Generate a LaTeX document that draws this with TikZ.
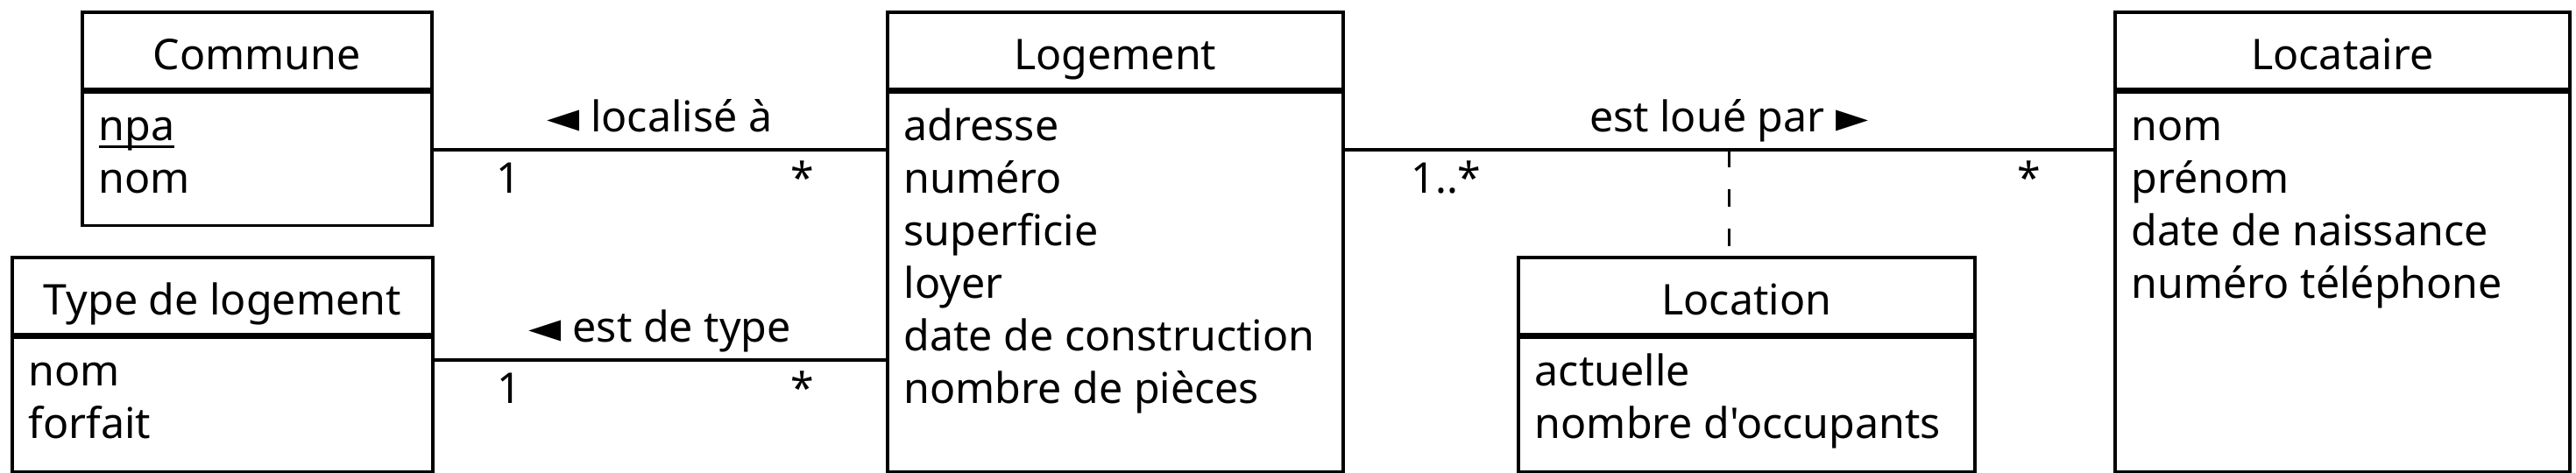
\documentclass[tikz,border=0pt]{standalone}
\usepackage{fontspec}
\setmainfont{Noto Sans}[Ligatures=TeXOff]
\newfontfamily\symfont{DejaVu Sans}
\usetikzlibrary{positioning,calc}
\newcommand{\umlfont}{\fontsize{13.75}{17.07}\selectfont}
\newcommand{\ident}[1]{\setbox0\hbox{#1}\rlap{\rule[-2.3pt]{\wd0}{0.85pt}}#1}
\newcommand{\attrlist}[1]{\begin{tabular}[t]{@{}l@{}}#1\end{tabular}}
\tikzset{
  clshead/.style={draw,line width=1pt,anchor=north west,minimum height=0.88cm,inner sep=0pt,text height=0.43cm,text depth=0pt,font=\umlfont},
  clsbody/.style={draw,line width=1pt,inner sep=0pt},
  attr/.style={anchor=base west,inner sep=0pt,font=\umlfont},
  assoc/.style={line width=1pt},
  rel/.style={font=\umlfont,inner sep=0pt,text depth=0pt},
  mult/.style={font=\umlfont,inner sep=0pt,anchor=base},
}
\begin{document}
\begin{tikzpicture}
  \useasboundingbox (0,0) rectangle (29.4,5.4);
  % classes
  \node[clshead,minimum width=3.99cm] (com) at (0.92,5.28) {Commune};
  \node[clsbody,minimum width=3.99cm,minimum height=1.52cm,below=0pt of com] (com-b) {};
  \node[attr] (com-a) at ($(com-b.north west)+(0.2,-0.57)$) {\attrlist{\ident{npa}\\nom}};
  \node[clshead,minimum width=4.8cm] (typ) at (0.12,2.48) {Type de logement};
  \node[clsbody,minimum width=4.8cm,minimum height=1.53cm,below=0pt of typ] (typ-b) {};
  \node[attr] (typ-a) at ($(typ-b.north west)+(0.2,-0.57)$) {\attrlist{nom\\forfait}};
  \node[clshead,minimum width=5.2cm] (log) at (10.11,5.28) {Logement};
  \node[clsbody,minimum width=5.2cm,minimum height=4.33cm,below=0pt of log] (log-b) {};
  \node[attr] (log-a) at ($(log-b.north west)+(0.2,-0.57)$) {\attrlist{adresse\\numéro\\superficie\\loyer\\date de construction\\nombre de pièces}};
  \node[clshead,minimum width=5.21cm] (lcn) at (17.31,2.48) {Location};
  \node[clsbody,minimum width=5.21cm,minimum height=1.53cm,below=0pt of lcn] (lcn-b) {};
  \node[attr] (lcn-a) at ($(lcn-b.north west)+(0.2,-0.57)$) {\attrlist{actuelle\\nombre d'occupants}};
  \node[clshead,minimum width=5.19cm] (lct) at (24.12,5.28) {Locataire};
  \node[clsbody,minimum width=5.19cm,minimum height=4.33cm,below=0pt of lct] (lct-b) {};
  \node[attr] (lct-a) at ($(lct-b.north west)+(0.2,-0.57)$) {\attrlist{nom\\prénom\\date de naissance\\numéro téléphone}};
  % associations
  \coordinate (r1) at (0,3.69);
  \coordinate (r2) at (0,1.29);
  \draw[assoc] (com-b.east |- r1) -- node[rel,above=0.19cm] (l1) {{\symfont ◄} localisé à}
    node[mult,pos=0,xshift=0.86cm,yshift=-0.5cm] (m1a) {1}
    node[mult,pos=1,xshift=-0.95cm,yshift=-0.5cm] (m1b) {*} (log-b.west |- r1);
  \draw[assoc] (typ-b.east |- r2) -- node[rel,above=0.19cm] (l2) {{\symfont ◄} est de type}
    node[mult,pos=0,xshift=0.86cm,yshift=-0.5cm] (m2a) {1}
    node[mult,pos=1,xshift=-0.95cm,yshift=-0.5cm] (m2b) {*} (log-b.west |- r2);
  \draw[assoc] (log-b.east |- r1) -- node[rel,above=0.19cm] (l3) {est loué par {\symfont ►}}
    node[mult,pos=0,xshift=1.16cm,yshift=-0.5cm] (m3a) {1..*}
    node[mult,pos=1,xshift=-0.96cm,yshift=-0.5cm] (m3b) {*} (lct-b.west |- r1);
  % association class
  \coordinate (mid) at ($(log-b.east |- r1)!0.5!(lct-b.west |- r1)$);
  \draw[assoc,dash pattern=on 0.2cm off 0.25cm] (mid) -- (mid |- lcn.north);
\end{tikzpicture}
\end{document}
